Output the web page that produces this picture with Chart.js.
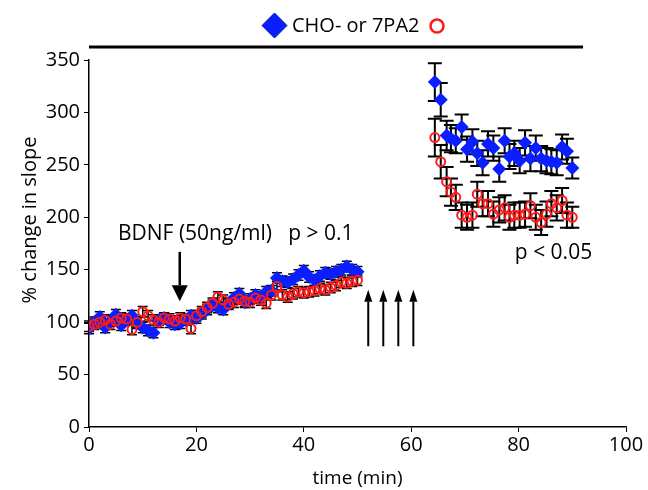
<!DOCTYPE html>
<html>
<head>
<meta charset="utf-8">
<script src="https://cdn.jsdelivr.net/npm/chart.js@4"></script>
<style>
  html, body { margin: 0; padding: 0; background: #fff; }
  #wrap { width: 648px; height: 490px; }
</style>
</head>
<body>
<div id="wrap"><canvas id="chart" width="648" height="490"></canvas></div>
<script>
// baseline + BDNF (0-50 min)
const earlyTime = [0,1,2,3,4,5,6,7,8,9,10,11,12,13,14,15,16,17,18,19,20,21,22,23,24,25,26,27,28,29,30,31,32,33,34,35,36,37,38,39,40,41,42,43,44,45,46,47,48,49,50];
const earlyBlue = [94,100,105,95,101,107,97,102,106,99,95,92,90,102,104,100,98,99,102,106,104,108,112,116,114,112,118,123,127,119,122,126,124,129,130,142,139,138,141,145,149,143,140,144,147,146,148,150,153,150,148];
const earlyRed = [96,98,100,102,98,101,104,103,93,100,110,106,102,100,104,103,101,104,103,94,106,110,114,118,124,121,117,119,122,120,119,123,121,118,126,134,126,124,127,129,128,129,130,132,131,133,135,138,137,139,140];
const earlyErr = 5;

// after tetanus (65-90 min)
const lateTime = [64.4,65.5,66.6,67.4,68.3,69.4,70.4,71.4,72.3,73.3,74.3,75.3,76.4,77.4,78.3,79.2,80.2,81.2,82.2,83.2,84.2,85.2,86.1,87.1,88.1,89.0,90.0];
const lateBlue = [329,312,278,275,273,286,265,272,261,252,270,266,246,273,258,261,254,271,256,266,256,254,253,252,267,263,247];
const lateRed = [276,253,234,224,219,202,200,202,222,213,213,203,207,209,200,202,202,203,211,200,195,203,213,209,216,202,200];
const lateBlueErr = [18,16,14,13,12,12,12,12,12,12,12,12,12,12,12,12,12,12,12,12,12,12,12,12,12,12,10];
const lateRedErr = [18,16,14,13,12,12,12,12,12,12,12,12,12,12,12,12,12,12,12,12,12,12,12,12,12,12,10];

const xTicks = [0, 20, 40, 60, 80, 100];
const yTicks = [0, 50, 100, 150, 200, 250, 300, 350];
const tetanusArrows = [52, 54.8, 57.6, 60.4];

const FONT = "'Open Sans', 'Noto Sans', sans-serif";
const BLUE = '#0a1eff';
const RED = '#ff1a1a';

function pts(t, v, e) {
  return t.map((x, i) => ({ x: x, y: v[i], e: Array.isArray(e) ? e[i] : e }));
}
const bluePts = pts(earlyTime, earlyBlue, earlyErr).concat(pts(lateTime, lateBlue, lateBlueErr));
const redPts = pts(earlyTime, earlyRed, earlyErr).concat(pts(lateTime, lateRed, lateRedErr));

function arrow(ctx, x, y1, y2, hw, hl, lw) {
  // shaft from y1, tip at y2
  const dir = y2 > y1 ? 1 : -1;
  ctx.lineWidth = lw;
  ctx.beginPath();
  ctx.moveTo(x, y1);
  ctx.lineTo(x, y2 - dir * hl);
  ctx.stroke();
  ctx.beginPath();
  ctx.moveTo(x, y2);
  ctx.lineTo(x - hw, y2 - dir * hl);
  ctx.lineTo(x + hw, y2 - dir * hl);
  ctx.closePath();
  ctx.fill();
}

const extras = {
  id: 'extras',
  beforeDatasetsDraw(chart) {
    const { ctx, scales: { x, y } } = chart;
    ctx.save();
    ctx.strokeStyle = '#000';
    chart.data.datasets.forEach(ds => {
      ds.data.forEach(p => {
        const px = x.getPixelForValue(p.x);
        const top = y.getPixelForValue(p.y + p.e);
        const bot = y.getPixelForValue(p.y - p.e);
        const cw = p.x > 60 ? 7 : 5;
        ctx.lineWidth = p.x > 60 ? 2 : 1.5;
        ctx.beginPath();
        ctx.moveTo(px, top); ctx.lineTo(px, bot);
        ctx.moveTo(px - cw, top); ctx.lineTo(px + cw, top);
        ctx.moveTo(px - cw, bot); ctx.lineTo(px + cw, bot);
        ctx.stroke();
      });
    });
    ctx.restore();
  },
  afterDraw(chart) {
    const { ctx, scales: { x, y } } = chart;
    ctx.save();
    ctx.fillStyle = '#000';
    ctx.strokeStyle = '#000';

    // top bar
    ctx.lineWidth = 3;
    ctx.beginPath();
    ctx.moveTo(x.getPixelForValue(0), 47);
    ctx.lineTo(x.getPixelForValue(92), 47);
    ctx.stroke();

    // legend
    ctx.fillStyle = BLUE;
    ctx.strokeStyle = '#0010b0';
    ctx.lineWidth = 1;
    ctx.beginPath();
    ctx.moveTo(274.5, 13); ctx.lineTo(287, 25.5); ctx.lineTo(274.5, 38); ctx.lineTo(262, 25.5);
    ctx.closePath(); ctx.fill(); ctx.stroke();
    ctx.fillStyle = '#000';
    ctx.font = '20px ' + FONT;
    ctx.textBaseline = 'middle';
    ctx.textAlign = 'left';
    ctx.fillText('CHO- or 7PA2', 292, 26);
    ctx.strokeStyle = RED;
    ctx.lineWidth = 2.5;
    ctx.beginPath();
    ctx.arc(437, 26, 6.5, 0, Math.PI * 2);
    ctx.stroke();

    // y axis title (sits above the axis centre in the original)
    ctx.save();
    ctx.translate(30, 220);
    ctx.rotate(-Math.PI / 2);
    ctx.textAlign = 'center';
    ctx.font = '20px ' + FONT;
    ctx.fillStyle = '#000';
    ctx.fillText('% change in slope', 0, 0);
    ctx.restore();

    // labels
    ctx.fillStyle = '#000';
    ctx.font = '21px ' + FONT;
    ctx.fillText('BDNF (50ng/ml)', x.getPixelForValue(5.4), y.getPixelForValue(184));
    ctx.fillText('p > 0.1', x.getPixelForValue(37.1), y.getPixelForValue(184));
    ctx.fillText('p < 0.05', x.getPixelForValue(79.3), y.getPixelForValue(166));

    // BDNF arrow
    ctx.strokeStyle = '#000';
    arrow(ctx, x.getPixelForValue(16.9), y.getPixelForValue(167), y.getPixelForValue(120), 8, 16, 2.5);
    // tetanus arrows
    tetanusArrows.forEach(t => {
      arrow(ctx, x.getPixelForValue(t), y.getPixelForValue(77), y.getPixelForValue(131), 4, 12, 2);
    });
    ctx.restore();
  }
};

const ctx = document.getElementById('chart').getContext('2d');
const chart = new Chart(ctx, {
  type: 'scatter',
  data: {
    datasets: [
      {
        label: '7PA2',
        data: redPts,
        pointStyle: 'circle',
        pointRadius: 4.5,
        pointBorderWidth: 2,
        borderColor: RED,
        backgroundColor: 'rgba(255,255,255,0)',
        showLine: false
      },
      {
        label: 'CHO-',
        data: bluePts,
        pointStyle: 'rectRot',
        pointRadius: 7,
        pointBorderWidth: 0,
        borderColor: BLUE,
        backgroundColor: BLUE,
        showLine: false
      }
    ]
  },
  options: {
    responsive: false,
    animation: false,
    devicePixelRatio: 1,
    layout: { padding: { left: 0, right: 22, top: 60, bottom: 0 } },
    plugins: { legend: { display: false }, tooltip: { enabled: false } },
    scales: {
      x: {
        type: 'linear',
        min: 0, max: 100,
        afterFit: s => { s.height = 63; },
        afterBuildTicks: s => { s.ticks = xTicks.map(v => ({ value: v })); },
        grid: { display: true, drawOnChartArea: false, tickLength: 5, color: '#000' },
        border: { color: '#000', width: 1.5 },
        ticks: { color: '#000', font: { family: FONT, size: 20 }, padding: 1, maxRotation: 0 },
        title: { display: true, text: 'time (min)', color: '#000', font: { family: FONT, size: 19 }, padding: { top: 0, bottom: 0 } }
      },
      y: {
        min: 0, max: 350,
        afterFit: s => { s.width = 89; },
        afterBuildTicks: s => { s.ticks = yTicks.map(v => ({ value: v })); },
        grid: { display: true, drawOnChartArea: false, tickLength: 5, color: '#000' },
        border: { color: '#000', width: 1.5 },
        ticks: { color: '#000', font: { family: FONT, size: 20 }, padding: 4 },
        title: { display: false }
      }
    }
  },
  plugins: [extras]
});
</script>
</body>
</html>
